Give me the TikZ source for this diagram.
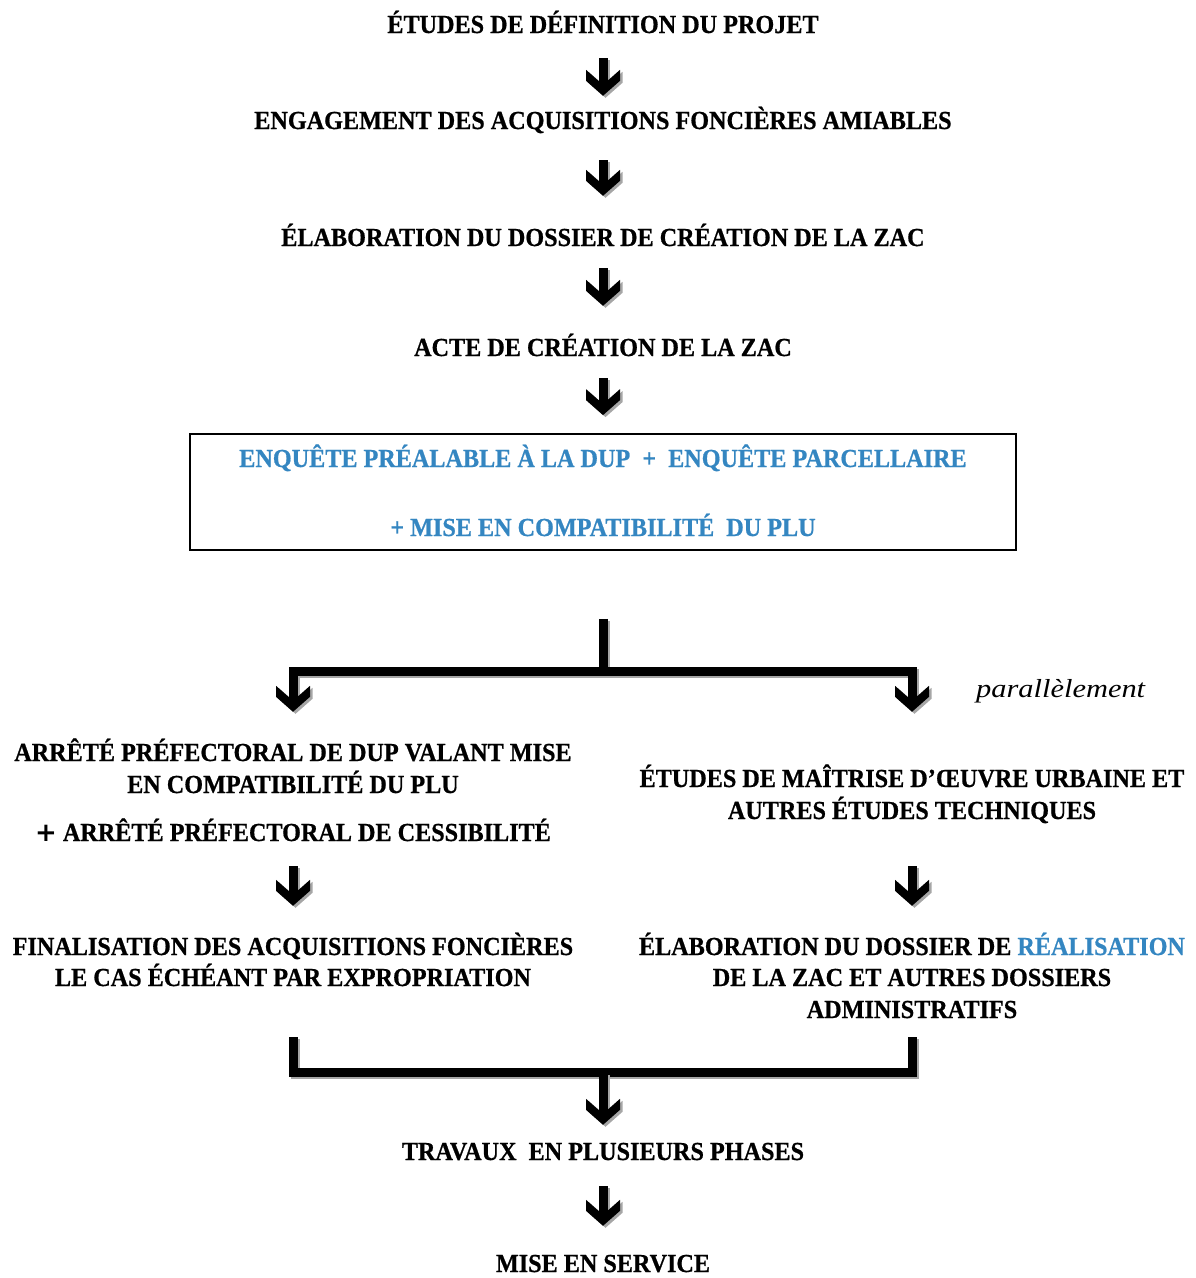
\documentclass[tikz,border=0pt]{standalone}
\usepackage{fontspec}
\setmainfont{Liberation Serif}
\newfontfamily\capfont[FakeStretch=0.93,BoldFeatures={FakeBold=0.7}]{Liberation Serif}
\newfontfamily\parfont[FakeStretch=1.17]{Liberation Serif}
\newfontfamily\plusfont{DejaVu Sans}
\usetikzlibrary{arrows.meta}
\definecolor{zacblue}{RGB}{52,134,193}
\pgfdeclarearrow{
  name = BlockHead,
  setup code = {
    \pgfarrowssettipend{0pt}
    \pgfarrowssetlineend{-14pt}
    \pgfarrowsupperhullpoint{-26pt}{17pt}
    \pgfarrowsupperhullpoint{0pt}{0pt}
  },
  drawing code = {
    \pgfpathmoveto{\pgfqpoint{0pt}{0pt}}
    \pgfpathlineto{\pgfqpoint{-15pt}{17pt}}
    \pgfpathlineto{\pgfqpoint{-26pt}{17pt}}
    \pgfpathlineto{\pgfqpoint{-15pt}{4.5pt}}
    \pgfpathlineto{\pgfqpoint{-15pt}{-4.5pt}}
    \pgfpathlineto{\pgfqpoint{-26pt}{-17pt}}
    \pgfpathlineto{\pgfqpoint{-15pt}{-17pt}}
    \pgfpathclose
    \pgfusepathqfill
  }
}
\newcommand\shdraw[2]{\draw[#1,shad] #2; \draw[#1] #2;}
\tikzset{
  txt/.style={inner sep=0pt, text height=18pt, text depth=0pt, anchor=center,
    font=\fontsize{26}{30}\capfont\bfseries},
  bluetxt/.style={txt, text=zacblue},
  conn/.style={line width=9pt, -BlockHead, line join=miter},
  bar/.style={line width=9pt, line join=miter},
  shad/.style={draw=black!35, transform canvas={shift={(2.5pt,-2pt)}}},
  enqbox/.style={draw, line width=1.8pt, minimum width=826pt, minimum height=116pt, inner sep=0pt},
}
\begin{document}
\begin{tikzpicture}[x=1pt,y=-1pt]
\useasboundingbox (0,0) rectangle (1196,1278);
% top chain
\node[txt] (t1) at (603,24) {ÉTUDES DE DÉFINITION DU PROJET};
\node[txt] (t2) at (603,120) {ENGAGEMENT DES ACQUISITIONS FONCIÈRES AMIABLES};
\node[txt] (t3) at (603,237) {ÉLABORATION DU DOSSIER DE CRÉATION DE LA ZAC};
\node[txt] (t4) at (603,347) {ACTE DE CRÉATION DE LA ZAC};
\node[enqbox] (enq) at (603,492) {};
\node[bluetxt] (enq1) at (603,458) {ENQUÊTE PRÉALABLE À LA DUP~ +~ ENQUÊTE PARCELLAIRE};
\node[bluetxt] (enq2) at (603,527) {+ MISE EN COMPATIBILITÉ~ DU PLU};
\node[inner sep=0pt, anchor=base west, font=\fontsize{26}{30}\parfont\itshape] (par) at (976,697) {parallèlement};
% left column
\node[txt] (l1) at (293,752) {ARRÊTÉ PRÉFECTORAL DE DUP VALANT MISE};
\node[txt] (l2) at (293,784) {EN COMPATIBILITÉ DU PLU};
\node[txt] (l3) at (293,832) {{\plusfont\bfseries +} ARRÊTÉ PRÉFECTORAL DE CESSIBILITÉ};
\node[txt] (l4) at (293,946) {FINALISATION DES ACQUISITIONS FONCIÈRES};
\node[txt] (l5) at (293,977) {LE CAS ÉCHÉANT PAR EXPROPRIATION};
% right column
\node[txt] (r1) at (912,778) {ÉTUDES DE MAÎTRISE D’ŒUVRE URBAINE ET};
\node[txt] (r2) at (912,810) {AUTRES ÉTUDES TECHNIQUES};
\node[txt] (r3) at (912,946) {ÉLABORATION DU DOSSIER DE \textcolor{zacblue}{RÉALISATION}};
\node[txt] (r4) at (912,977) {DE LA ZAC ET AUTRES DOSSIERS};
\node[txt] (r5) at (912,1009) {ADMINISTRATIFS};
% bottom
\node[txt] (w1) at (603,1151) {TRAVAUX~ EN PLUSIEURS PHASES};
\node[txt] (w2) at (603,1263) {MISE EN SERVICE};
% coordinates for bracket ends
\coordinate (stemtop) at ([yshift=-68pt]enq.south);
\coordinate (barmid) at ([yshift=-121pt]enq.south);
\coordinate (barbot) at ([yshift=69pt]w1.north);
% connectors
\shdraw{conn, shorten <=25pt, shorten >=15pt}{(t1) -- (t2)}
\shdraw{conn, shorten <=31pt, shorten >=32pt}{(t2) -- (t3)}
\shdraw{conn, shorten <=22pt, shorten >=32pt}{(t3) -- (t4)}
\shdraw{conn, shorten <=22pt, shorten >=18pt}{(t4) -- (enq)}
\shdraw{bar}{(stemtop) -- (barmid)}
\shdraw{bar, BlockHead-BlockHead, shorten <=31pt, shorten >=57pt}{(l1.north) |- (barmid) -| (r1.north)}
\shdraw{conn, shorten <=25pt, shorten >=31pt}{(l3) -- (l4)}
\shdraw{conn, shorten <=47pt, shorten >=31pt}{(r2) -- (r3)}
\shdraw{bar, shorten <=51pt, shorten >=19pt}{(l5.south) |- (barbot) -| (r5.south)}
\shdraw{conn, shorten >=17pt}{(barbot) -- (w1)}
\shdraw{conn, shorten <=26pt, shorten >=28pt}{(w1) -- (w2)}
\end{tikzpicture}
\end{document}
